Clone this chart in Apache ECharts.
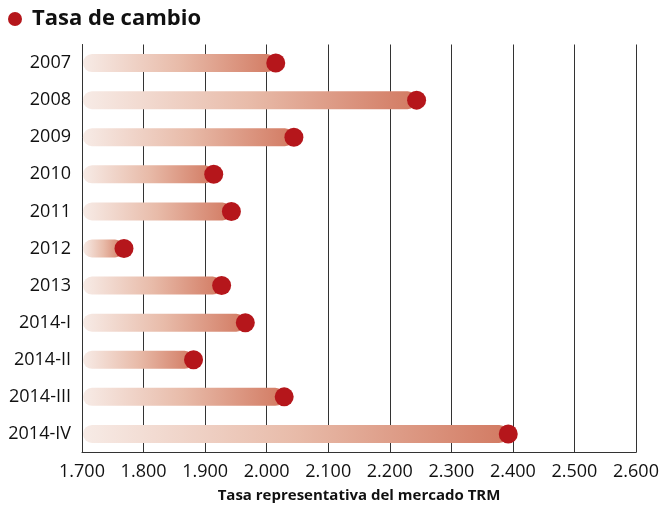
<!DOCTYPE html>
<html>
<head>
<meta charset="utf-8">
<script src="https://cdn.jsdelivr.net/npm/echarts@6/dist/echarts.min.js"></script>
<style>html,body{margin:0;padding:0;background:#fff}#c{width:662px;height:505px}</style>
</head>
<body>
<div id="c"></div>
<script>
const categories = ['2007','2008','2009','2010','2011','2012','2013','2014-I','2014-II','2014-III','2014-IV'];
const trmValues = [2014.76, 2243.59, 2044.23, 1913.98, 1942.70, 1768.23, 1926.83, 1965.32, 1881.19, 2028.48, 2392.46];
const xTicks = [1700, 1800, 1900, 2000, 2100, 2200, 2300, 2400, 2500, 2600];
const xTickLabels = ['1.700','1.800','1.900','2.000','2.100','2.200','2.300','2.400','2.500','2.600'];
const titleText = 'Tasa de cambio';
const axisTitle = 'Tasa representativa del mercado TRM';

const chart = echarts.init(document.getElementById('c'), null, {renderer: 'canvas'});
const FONT = '"Open Sans", "Noto Sans", sans-serif';
const DOT = '#b5161b';

chart.setOption({
  animation: false,
  grid: {left: 82, right: 26, top: 44.5, bottom: 52.5, containLabel: false, outerBoundsMode: 'none'},
  graphic: [
    {type: 'circle', shape: {cx: 15, cy: 19, r: 7}, style: {fill: DOT}},
    {type: 'text', x: 32, y: 19, style: {text: titleText, font: 'bold 22px ' + FONT, fill: '#111', verticalAlign: 'middle', align: 'left'}}
  ],
  xAxis: {
    type: 'value', min: xTicks[0], max: xTicks[xTicks.length - 1], interval: 100,
    axisLine: {show: true, lineStyle: {color: '#333', width: 1}},
    axisTick: {show: false},
    splitLine: {show: true, lineStyle: {color: '#333', width: 1}},
    axisLabel: {
      fontFamily: FONT, fontSize: 18, color: '#111', margin: 10,
      formatter: v => xTickLabels[xTicks.indexOf(v)] || ''
    },
    name: axisTitle, nameLocation: 'middle', nameGap: 36,
    nameTextStyle: {fontFamily: FONT, fontSize: 15, fontWeight: 'bold', color: '#111'}
  },
  yAxis: {
    type: 'category', data: categories, inverse: true,
    axisLine: {show: true, lineStyle: {color: '#333', width: 1}},
    axisTick: {show: false},
    splitLine: {show: false},
    axisLabel: {fontFamily: FONT, fontSize: 18, color: '#111', margin: 11}
  },
  series: [
    {
      type: 'custom',
      data: trmValues.map((v, i) => [i, v]),
      encode: {x: 1, y: 0},
      z: 2,
      renderItem: function (params, api) {
        const idx = api.value(0);
        const val = api.value(1);
        const start = api.coord([xTicks[0], idx]);
        const end = api.coord([val, idx]);
        const h = 18;
        return {
          type: 'rect',
          shape: {x: start[0] + 1, y: start[1] - h / 2, width: end[0] - start[0] - 1, height: h, r: h / 2},
          style: {
            fill: new echarts.graphic.LinearGradient(0, 0, 1, 0, [
              {offset: 0, color: '#f7ebe6'},
              {offset: 0.5, color: '#e8bba9'},
              {offset: 1, color: '#d27a62'}
            ])
          }
        };
      }
    },
    {
      type: 'scatter',
      data: trmValues.map((v, i) => [v, categories[i]]),
      symbol: 'circle', symbolSize: 19,
      itemStyle: {color: DOT, opacity: 1},
      z: 3
    }
  ]
});
</script>
</body>
</html>
